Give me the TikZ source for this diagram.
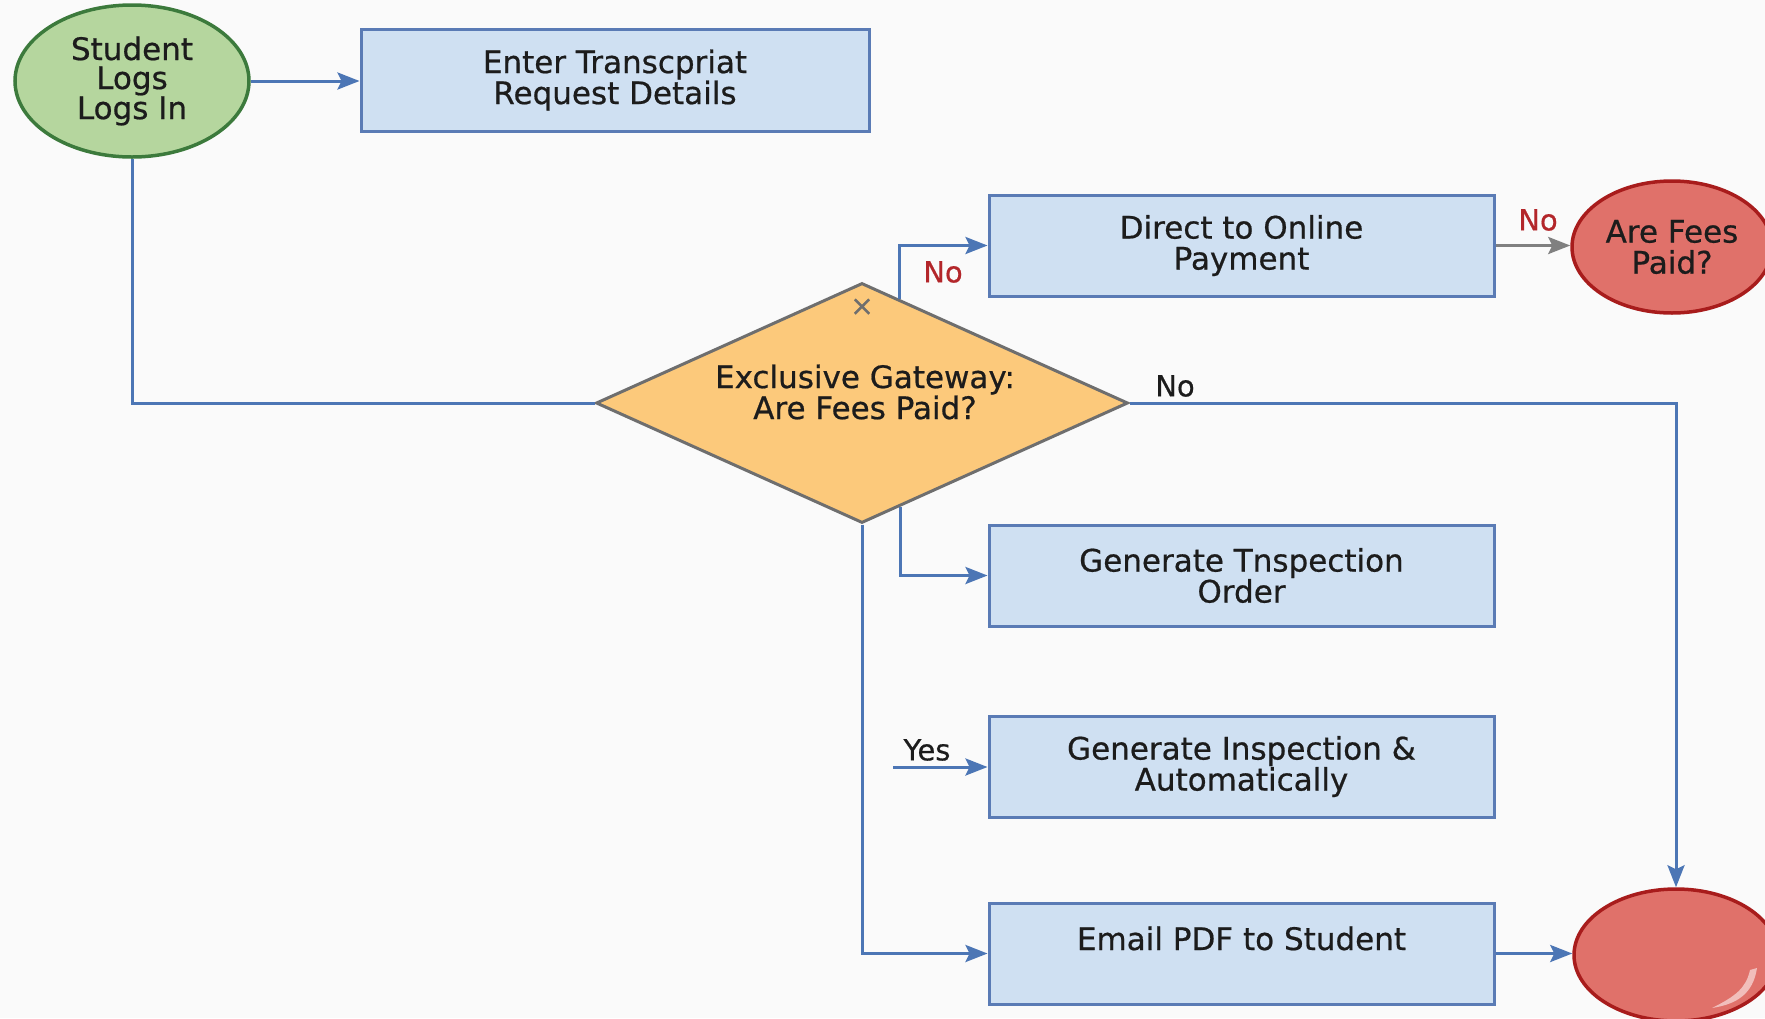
\documentclass[tikz,border=0pt]{standalone}
\usepackage{fontspec}
\setmainfont{DejaVu Sans}[FakeBold=0.6]
\usetikzlibrary{shapes.geometric,arrows.meta,calc}
\definecolor{lineblue}{HTML}{4C76B5}
\definecolor{boxfill}{HTML}{CFE0F2}
\definecolor{boxdraw}{HTML}{5A7BB5}
\definecolor{greenfill}{HTML}{B5D69E}
\definecolor{greendraw}{HTML}{3C7A3C}
\definecolor{gwfill}{HTML}{FCC97B}
\definecolor{gwdraw}{HTML}{6E6E6E}
\definecolor{redfill}{HTML}{E0716A}
\definecolor{reddraw}{HTML}{A81C1C}
\definecolor{redtext}{HTML}{B3262A}
\definecolor{txtcol}{HTML}{1C1C1C}
\definecolor{bgcol}{HTML}{FAFAFA}
\tikzset{
  txtfont/.style={font=\fontsize{31}{31}\selectfont, text=txtcol},
  taskbox/.style={rectangle, draw=boxdraw, line width=3pt, fill=boxfill,
    minimum width=505pt, minimum height=101pt, inner sep=0pt, align=center, txtfont},
  startev/.style={ellipse, draw=greendraw, line width=3.5pt, fill=greenfill,
    minimum width=234pt, minimum height=152pt, inner sep=0pt, align=center,
    font=\fontsize{31}{29}\selectfont, text=txtcol},
  redev/.style={ellipse, draw=reddraw, line width=3.5pt, fill=redfill,
    minimum width=202pt, minimum height=132pt, inner sep=0pt, align=center, txtfont},
  gwshape/.style={diamond, aspect=2.2, draw=gwdraw, line width=3pt, fill=gwfill,
    minimum width=532pt, minimum height=240pt, inner sep=0pt},
  conn/.style={draw=lineblue, line width=3pt},
  arr/.style={conn, -{Stealth[length=22pt,width=17pt,inset=4pt]}},
  grayarr/.style={draw=gray, line width=3pt, -{Stealth[length=22pt,width=17pt,inset=4pt]}},
  nolab/.style={font=\fontsize{29}{29}\selectfont, text=redtext, inner sep=0pt},
  blacklab/.style={font=\fontsize{29}{29}\selectfont, text=txtcol, inner sep=0pt}
}
\begin{document}
\begin{tikzpicture}[x=1pt,y=-1pt]
\useasboundingbox (0,0) rectangle (1765,1018);
\fill[bgcol] (0,0) rectangle (1765,1018);

\node[startev] (start) at (132,81) {Student\\Logs\\Logs In};
\node[taskbox, minimum width=508pt, minimum height=102pt] (enter) at (615,80) {Enter Transcpriat\\Request Details};
\node[taskbox] (direct) at (1241.5,245.5) {Direct to Online\\Payment};
\node[redev, minimum width=200pt] (fees) at (1672,247) {Are Fees\\Paid?};
\node[gwshape] (gw) at (862,403) {};
\node[txtfont, align=center, inner sep=0pt] (gwtext) at (865,392) {Exclusive Gateway:\\Are Fees Paid?};
\node[font=\fontsize{28}{28}\selectfont, text=gwdraw, inner sep=0pt] (gwx) at (862,307) {×};
\node[taskbox] (gen1) at (1241.5,575.5) {Generate Tnspection\\Order};
\node[taskbox] (gen2) at (1241.5,766.5) {Generate Inspection \&\\Automatically};
\node[taskbox, text height=24pt, text depth=31pt] (email) at (1241.5,953.5) {Email PDF to Student};
\node[redev, minimum width=204pt] (end) at (1676,955) {};
\fill[white, opacity=0.55] (1757,968) .. controls (1753,994) and (1737,1004) .. (1712,1008)
  .. controls (1736,996) and (1746,988) .. (1750,970) -- cycle;

\coordinate (gwne) at ($(gw.north)!0.14!(gw.east)$);
\coordinate (gwse) at ($(gw.south)!0.143!(gw.east)$);
\coordinate (yesstart) at (893,767);

\draw[arr] (start.east) -- (start.east -| enter.west);
\draw[conn] (start.south) |- (gw.west);
\draw[arr] (gwne) |- (direct.west);
\draw[grayarr] (direct.east) -- (direct.east -| fees.west);
\draw[arr] (gw.east) -| (end.north);
\draw[arr] (gwse) |- (gen1.west);
\draw[arr] (yesstart) -- (yesstart -| gen2.west);
\draw[arr] (gw.south) |- (email.west);
\draw[arr] (email.east) -- (email.east -| end.west);

\node[nolab] (no1) at (943,272) {No};
\node[nolab] (no2) at (1538,220) {No};
\node[blacklab] (no3) at (1175,386) {No};
\node[blacklab] (yes) at (927,750) {Yes};
\end{tikzpicture}
\end{document}
